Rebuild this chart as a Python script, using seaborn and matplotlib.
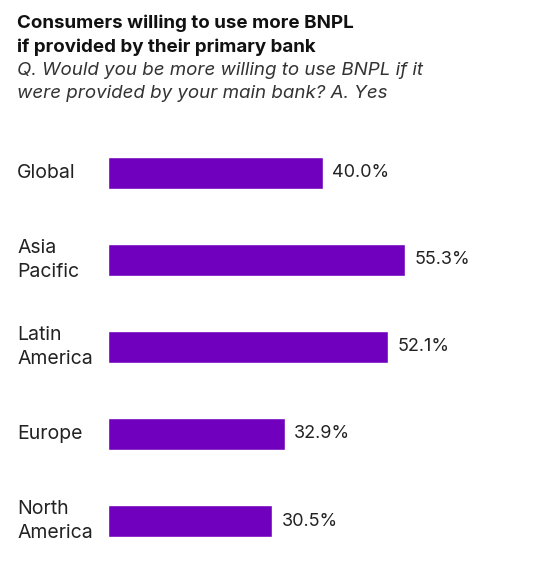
import matplotlib
matplotlib.use("Agg")
import matplotlib.pyplot as plt
import matplotlib.transforms as mtransforms
import seaborn as sns
import pandas as pd

categories = ["Global", "Asia\nPacific", "Latin\nAmerica", "Europe", "North\nAmerica"]
values = [40.0, 55.3, 52.1, 32.9, 30.5]
value_labels = ["40.0%", "55.3%", "52.1%", "32.9%", "30.5%"]

title = "Consumers willing to use more BNPL\nif provided by their primary bank"
subtitle = "Q. Would you be more willing to use BNPL if it\nwere provided by your main bank? A. Yes"

BAR = "#7100BE"
W, H = 552, 579

sns.set_theme(style="white")
plt.rcParams["font.family"] = ["Inter", "DejaVu Sans"]

df = pd.DataFrame({"region": categories, "value": values})

fig = plt.figure(figsize=(W / 100, H / 100), dpi=100)
fig.patch.set_facecolor("white")
left, right, top, bottom = 108, 532, 129.5, 564.5
ax = fig.add_axes([left / W, 1 - bottom / H, (right - left) / W, (bottom - top) / H])

sns.barplot(data=df, x="value", y="region", orient="h", color=BAR,
            width=0.37, saturation=1, ax=ax)
ax.set_xlim(0, 79)
ax.set_ylim(4.5, -0.5)
for s in ax.spines.values():
    s.set_visible(False)
ax.set_xticks([])
ax.set_yticks([])
ax.set_xlabel("")
ax.set_ylabel("")
ax.set_facecolor("white")

ax.bar_label(ax.containers[0], labels=value_labels, padding=7,
             fontsize=13, color="#222222")

tr = mtransforms.blended_transform_factory(fig.transFigure, ax.transData)
for i, c in enumerate(categories):
    ax.text(17 / W, i, c, transform=tr, ha="left", va="center",
            fontsize=14, color="#222222", linespacing=1.45)

fig.text(17 / W, 1 - 14 / H, title, ha="left", va="top", fontsize=13.5,
         fontweight="bold", color="#111111", linespacing=1.5)
fig.text(17 / W, 1 - 62 / H, subtitle, ha="left", va="top", fontsize=13.5,
         fontstyle="italic", color="#333333", linespacing=1.5)

fig.savefig("out.png", dpi=100, facecolor="white")
